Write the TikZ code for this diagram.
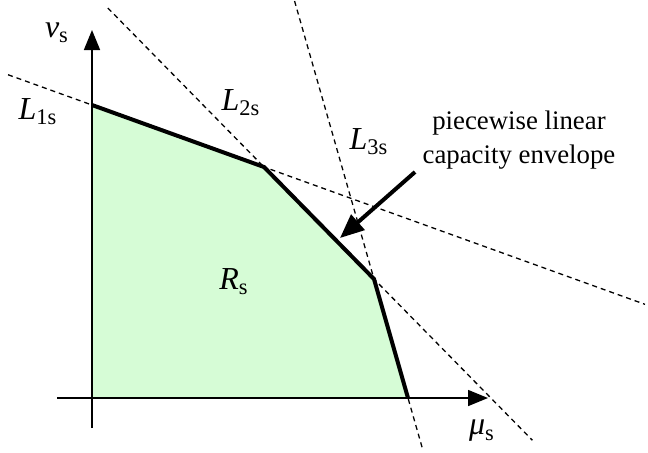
\documentclass[tikz,border=0pt]{standalone}
\usepackage{amsmath}
\usepackage{fontspec}
\setmainfont{Liberation Serif}
\usetikzlibrary{arrows.meta, calc}
\definecolor{regiongreen}{RGB}{214,252,214}

\begin{document}
\begin{tikzpicture}[
    x=0.5pt, y=-0.5pt,
    font=\fontsize{13.4}{17}\selectfont,
    axis/.style={line width=0.8pt, -{Triangle[length=10pt, width=8pt]}},
    bound/.style={line width=0.65pt, dash pattern=on 2.5pt off 2pt},
    envelope/.style={line width=2pt, line join=miter},
    pointer/.style={line width=2pt, -{Triangle[length=12pt, width=10pt]}},
    sym/.style={font=\fontsize{16}{18}\selectfont}
]
    \useasboundingbox (0,0) rectangle (648,452);

    % 顶点
    \coordinate (O) at (92,398);
    \coordinate (A) at (92,105);
    \coordinate (B) at (264,167);
    \coordinate (C) at (374,279);
    \coordinate (D) at (408,398);

    % 容量区域
    \fill[regiongreen] (O) -- (A) -- (B) -- (C) -- (D) -- cycle;

    % 三条约束直线
    \draw[bound] ($(A)!-0.488!(B)$) -- ($(A)!3.215!(B)$);
    \draw[bound] ($(B)!-1.42!(C)$) -- ($(B)!2.44!(C)$);
    \draw[bound] ($(C)!-2.336!(D)$) -- ($(C)!1.445!(D)$);

    % 坐标轴
    \coordinate (ybot) at (92,428);
    \coordinate (ytop) at (92,30);
    \coordinate (xleft) at (57,398);
    \coordinate (xright) at (488,398);
    \draw[axis] (ybot) -- (ytop);
    \draw[axis] (xleft) -- (xright);

    % 分段线性包络
    \draw[envelope] (A) -- (B) -- (C) -- (D);

    % 标注
    \node[sym] (vs) at (57,33) {\textit{v}$_{\text{s}}$};
    \node[sym] (mus) at (482,431) {\textit{μ}$_{\text{s}}$};
    \node[sym] (L1) at (38,112) {\textit{L}$_{\text{1s}}$};
    \node[sym] (L2) at (241,103) {\textit{L}$_{\text{2s}}$};
    \node[sym] (L3) at (369,142) {\textit{L}$_{\text{3s}}$};
    \node[sym] (Rs) at (234,282) {\textit{R}$_{\text{s}}$};

    % 说明文字与箭头
    \node[align=center] (note) at (519,140) {piecewise linear\\capacity envelope};
    \coordinate (notetail) at (415,172);
    \coordinate (notetip) at (340,238);
    \draw[pointer] (notetail) -- (notetip);
\end{tikzpicture}
\end{document}
